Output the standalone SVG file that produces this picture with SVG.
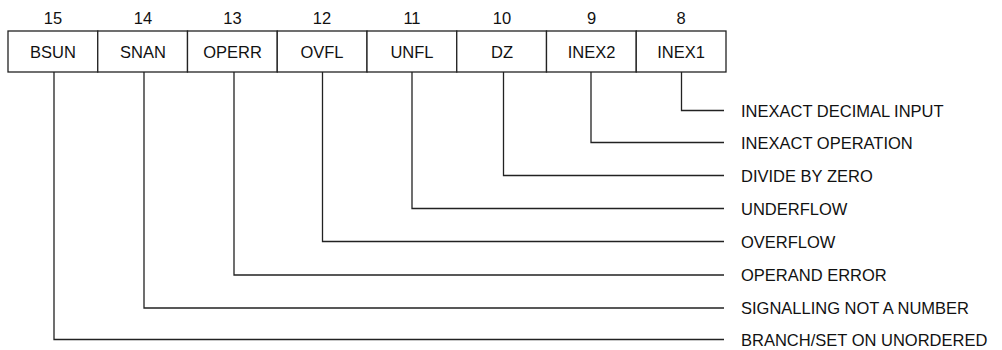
<svg xmlns="http://www.w3.org/2000/svg" width="1002" height="350" viewBox="0 0 1002 350">
<style>
  .box { fill: #fff; stroke: #222; stroke-width: 1.3; }
  .lbl { font-family: "Liberation Sans", Arial, sans-serif; font-size: 16.5px; fill: #111; text-anchor: middle; }
  .num { font-family: "Liberation Sans", Arial, sans-serif; font-size: 16.5px; fill: #111; text-anchor: middle; }
  .desc { font-family: "Liberation Sans", Arial, sans-serif; font-size: 16.5px; fill: #111; }
  .conn { fill: none; stroke: #222; stroke-width: 1.3; }
</style>
<rect width="1002" height="350" fill="#fff"/>
<g id="bit15"><rect class="box" x="8" y="31" width="89.75" height="41"/><text class="num" x="53" y="23.5">15</text><text class="lbl" x="53" y="57.5">BSUN</text></g>
<g id="bit14"><rect class="box" x="97.75" y="31" width="89.75" height="41"/><text class="num" x="143" y="23.5">14</text><text class="lbl" x="143" y="57.5">SNAN</text></g>
<g id="bit13"><rect class="box" x="187.5" y="31" width="89.75" height="41"/><text class="num" x="232.5" y="23.5">13</text><text class="lbl" x="232.5" y="57.5">OPERR</text></g>
<g id="bit12"><rect class="box" x="277.25" y="31" width="89.75" height="41"/><text class="num" x="322" y="23.5">12</text><text class="lbl" x="322" y="57.5">OVFL</text></g>
<g id="bit11"><rect class="box" x="367" y="31" width="89.75" height="41"/><text class="num" x="412" y="23.5">11</text><text class="lbl" x="412" y="57.5">UNFL</text></g>
<g id="bit10"><rect class="box" x="456.75" y="31" width="89.75" height="41"/><text class="num" x="502" y="23.5">10</text><text class="lbl" x="502" y="57.5">DZ</text></g>
<g id="bit9"><rect class="box" x="546.5" y="31" width="89.75" height="41"/><text class="num" x="591.5" y="23.5">9</text><text class="lbl" x="591.5" y="57.5">INEX2</text></g>
<g id="bit8"><rect class="box" x="636.25" y="31" width="89.75" height="41"/><text class="num" x="681" y="23.5">8</text><text class="lbl" x="681" y="57.5">INEX1</text></g>
<g id="connectors">
  <path class="conn" d="M681.5 72 V110.5 H724"/>
  <path class="conn" d="M591 72 V142.5 H724"/>
  <path class="conn" d="M503.5 72 V175.5 H724"/>
  <path class="conn" d="M412 72 V208.5 H724"/>
  <path class="conn" d="M322.5 72 V241.5 H724"/>
  <path class="conn" d="M234 72 V275 H724"/>
  <path class="conn" d="M144 72 V308 H724"/>
  <path class="conn" d="M54 72 V339.5 H724"/>
</g>
<g id="descriptions">
  <text class="desc" x="741" y="116.5">INEXACT DECIMAL INPUT</text>
  <text class="desc" x="741" y="148.5">INEXACT OPERATION</text>
  <text class="desc" x="741" y="181.5">DIVIDE BY ZERO</text>
  <text class="desc" x="741" y="214.5">UNDERFLOW</text>
  <text class="desc" x="741" y="247.5">OVERFLOW</text>
  <text class="desc" x="741" y="281">OPERAND ERROR</text>
  <text class="desc" x="741" y="314">SIGNALLING NOT A NUMBER</text>
  <text class="desc" x="741" y="345.5">BRANCH/SET ON UNORDERED</text>
</g>
</svg>
